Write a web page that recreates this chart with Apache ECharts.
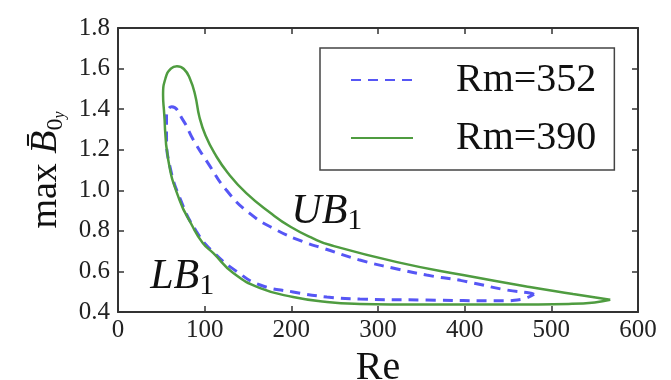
<!DOCTYPE html>
<html>
<head>
<meta charset="utf-8">
<script src="https://cdn.jsdelivr.net/npm/echarts@6/dist/echarts.min.js"></script>
<style>
  html, body { margin: 0; padding: 0; background: #fff; }
  #chart { width: 671px; height: 380px; }
</style>
</head>
<body>
<div id="chart"></div>
<script>
// Rm=352 loop (dashed blue): tip -> upper branch -> top -> left/lower branch -> tip
const re352 = [480, 475, 449, 410, 395, 356, 317, 279, 237, 214, 183, 152, 125, 104, 87, 75, 62, 57, 56, 56, 60, 72, 90, 110, 137, 164, 202, 241, 279, 356, 441, 466, 480]
const b352 = [0.487, 0.494, 0.508, 0.543, 0.556, 0.582, 0.617, 0.656, 0.714, 0.746, 0.804, 0.886, 1.001, 1.133, 1.248, 1.346, 1.412, 1.39, 1.36, 1.264, 1.116, 0.955, 0.80, 0.695, 0.60, 0.533, 0.499, 0.474, 0.464, 0.459, 0.455, 0.463, 0.487]

// Rm=390 loop (solid green)
const re390 = [568, 525, 475, 398, 322, 245, 225, 199, 176, 148, 127, 112, 101, 94, 89, 83, 76, 68, 61, 55, 52, 53, 58, 71, 85, 98, 110, 133, 164, 202, 241, 279, 350, 450, 520, 550, 568]
const b390 = [0.460, 0.489, 0.523, 0.582, 0.646, 0.730, 0.763, 0.820, 0.888, 0.986, 1.084, 1.178, 1.270, 1.360, 1.470, 1.550, 1.598, 1.612, 1.600, 1.555, 1.470, 1.396, 1.149, 0.952, 0.830, 0.739, 0.690, 0.592, 0.518, 0.474, 0.449, 0.440, 0.437, 0.437, 0.440, 0.447, 0.460]

const seriesNames = ['Rm=352', 'Rm=390']
const xTickLabels = ['0', '100', '200', '300', '400', '500', '600']
const yTickLabels = ['0.4', '0.6', '0.8', '1.0', '1.2', '1.4', '1.6', '1.8']

const serif = '"Liberation Serif", "DejaVu Serif", serif'
const frame = '#333'

function zip(xs, ys) {
  return xs.map((x, i) => [x, ys[i]])
}

function axisBase(extra) {
  return Object.assign({
    type: 'value',
    axisLine: { show: true, onZero: false, lineStyle: { color: frame, width: 2 } },
    axisTick: { show: true, inside: true, length: 6, lineStyle: { color: frame, width: 1.5 } },
    splitLine: { show: false }
  }, extra)
}

const chart = echarts.init(document.getElementById('chart'))

chart.setOption({
  backgroundColor: '#fff',
  animation: false,
  grid: { left: 118, right: 33, top: 28, bottom: 68, outerBoundsMode: 'none', containLabel: false },
  legend: {
    data: seriesNames,
    orient: 'vertical',
    left: 320,
    top: 48,
    padding: [12, 18, 12, 30],
    itemGap: 18,
    itemWidth: 62,
    itemHeight: 14,
    itemStyle: { opacity: 0 },
    backgroundColor: '#fff',
    borderColor: '#444',
    borderWidth: 1.5,
    textStyle: {
      fontFamily: serif,
      fontSize: 40,
      color: '#111',
      padding: [0, 0, 0, 38]
    }
  },
  xAxis: [
    axisBase({
      position: 'bottom',
      min: 0, max: 600, interval: 100,
      name: 'Re',
      nameLocation: 'middle',
      nameGap: 36,
      nameTextStyle: { fontFamily: serif, fontSize: 40, color: '#111' },
      axisLabel: {
        margin: 6,
        fontFamily: serif, fontSize: 25, color: '#222',
        formatter: (v, i) => xTickLabels[i]
      }
    }),
    axisBase({
      position: 'top',
      min: 0, max: 600, interval: 100,
      axisLabel: { show: false }
    })
  ],
  yAxis: [
    axisBase({
      position: 'left',
      min: 0.4, max: 1.8, interval: 0.2,
      name: '{n|max }{b|B̄}{s|0}{t|y}',
      nameLocation: 'middle',
      nameRotate: 90,
      nameGap: 49,
      nameTextStyle: {
        rich: {
          n: { fontFamily: serif, fontSize: 38, color: '#111', lineHeight: 44 },
          b: { fontFamily: serif, fontStyle: 'italic', fontSize: 38, color: '#111', lineHeight: 44 },
          s: { fontFamily: serif, fontSize: 24, color: '#111', lineHeight: 44, verticalAlign: 'bottom', padding: [12, 0, 0, 0] },
          t: { fontFamily: serif, fontStyle: 'italic', fontSize: 16, color: '#111', lineHeight: 44, verticalAlign: 'bottom', padding: [20, 0, 0, 0] }
        }
      },
      axisLabel: {
        margin: 8,
        fontFamily: serif, fontSize: 25, color: '#222',
        formatter: (v, i) => yTickLabels[i]
      }
    }),
    axisBase({
      position: 'right',
      min: 0.4, max: 1.8, interval: 0.2,
      axisLabel: { show: false }
    })
  ],
  series: [
    {
      name: seriesNames[0],
      type: 'line',
      data: zip(re352, b352),
      smooth: 0.5,
      symbol: 'none',
      color: '#5656f5',
      lineStyle: { color: '#5656f5', width: 3, type: [10, 7] },
      z: 3
    },
    {
      name: seriesNames[1],
      type: 'line',
      data: zip(re390, b390),
      smooth: 0.5,
      symbol: 'none',
      color: '#4f9c40',
      lineStyle: { color: '#4f9c40', width: 2.5 },
      z: 4,
      markPoint: {
        symbol: 'circle',
        symbolSize: 0,
        silent: true,
        label: {
          show: true,
          position: 'inside',
          formatter: p => '{i|' + p.name + '}{s|1}',
          rich: {
            i: { fontFamily: serif, fontStyle: 'italic', fontSize: 42, color: '#111', lineHeight: 48 },
            s: { fontFamily: serif, fontSize: 30, color: '#111', lineHeight: 48, verticalAlign: 'bottom', padding: [18, 0, 0, 0] }
          }
        },
        data: [
          { name: 'UB', coord: [241, 0.893] },
          { name: 'LB', coord: [74, 0.572] }
        ]
      }
    }
  ]
})
</script>
</body>
</html>
